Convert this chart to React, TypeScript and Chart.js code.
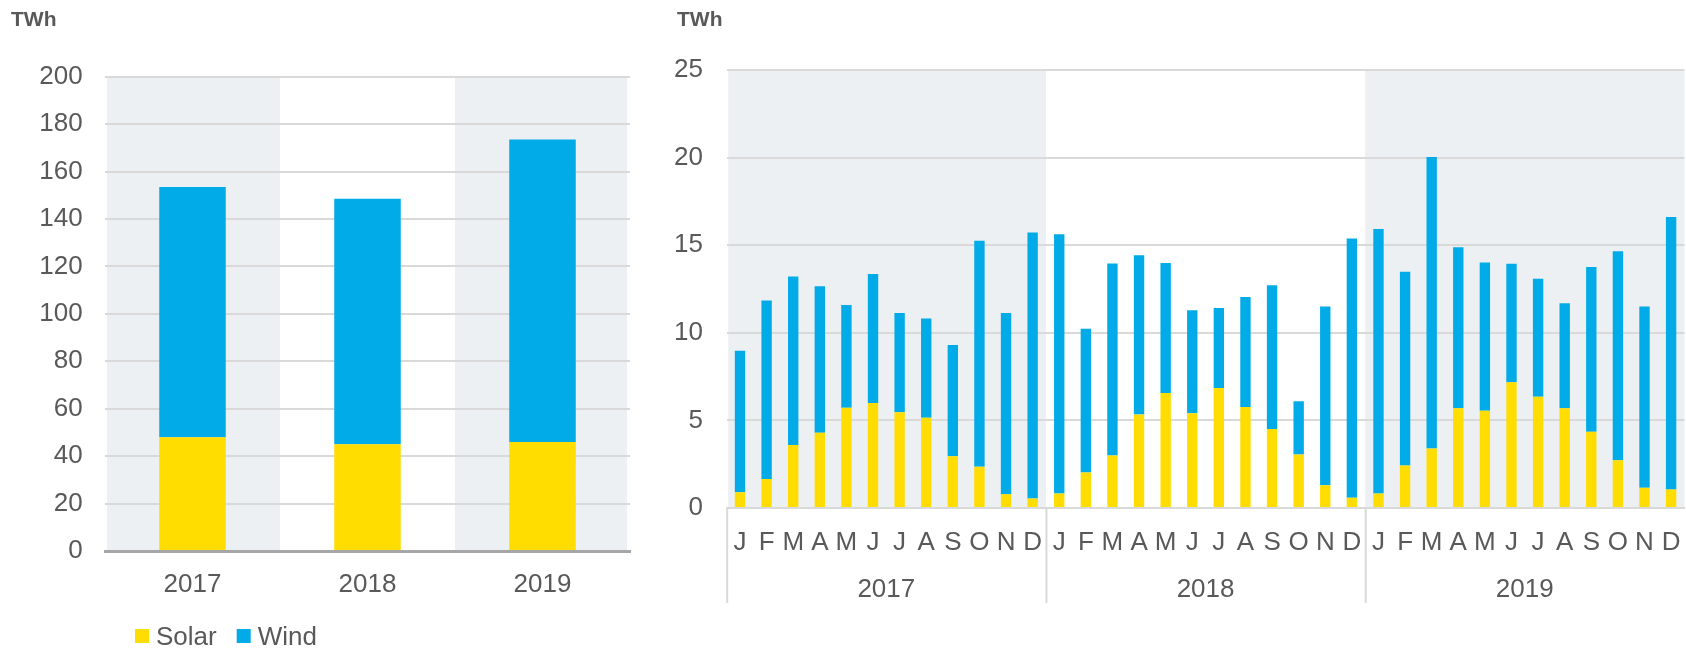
import React, { useEffect, useRef } from "react";
import { Chart, registerables } from "chart.js";

Chart.register(...registerables);

// ---------- Data ----------
const annualCategories = ["2017", "2018", "2019"];
const annualSolar = [48, 45, 46];
const annualWind = [105.5, 103.5, 127.5];

const monthLetters = ["J", "F", "M", "A", "M", "J", "J", "A", "S", "O", "N", "D"];
const monthYears = ["2017", "2018", "2019"];

const solar2017 = [0.9, 1.65, 3.59, 4.3, 5.72, 6.0, 5.46, 5.15, 2.95, 2.36, 0.78, 0.54];
const wind2017 = [8.08, 10.19, 9.62, 8.36, 5.86, 7.35, 5.67, 5.67, 6.36, 12.9, 10.35, 15.19];
const solar2018 = [0.83, 2.03, 3.0, 5.34, 6.57, 5.41, 6.85, 5.76, 4.51, 3.05, 1.3, 0.59];
const wind2018 = [14.79, 8.2, 10.96, 9.09, 7.42, 5.88, 4.56, 6.29, 8.2, 3.05, 10.2, 14.79];
const solar2019 = [0.83, 2.43, 3.4, 5.69, 5.55, 7.18, 6.35, 5.69, 4.35, 2.72, 1.16, 1.06];
const wind2019 = [15.09, 11.06, 16.63, 9.19, 8.46, 6.76, 6.74, 6.0, 9.4, 11.93, 10.34, 15.55];

const seriesNames = ["Solar", "Wind"];
const unitLabel = "TWh";

// ---------- Style ----------
const FONT = "'Liberation Sans', Arial, sans-serif";
const TEXT = "#595959";
const GRID = "#d9d9d9";
const BAND = "#ecf0f3";
const SOLAR = "#ffdd00";
const WIND = "#00abe7";
const FS = 26;

const decorPlugin = {
  id: "decor",
  beforeDraw(chart: any, _args: any, opts: any) {
    const { ctx, chartArea } = chart;
    const x = chart.scales.x;
    const n = x.getLabels().length;
    const slot = (chartArea.right - chartArea.left) / n;
    ctx.save();
    ctx.fillStyle = BAND;
    for (const [a, b] of opts.bands || []) {
      let x0 = x.getPixelForValue(a) - slot / 2;
      let x1 = x.getPixelForValue(b) + slot / 2;
      x0 = Math.max(x0, chartArea.left + opts.inset[0]);
      x1 = Math.min(x1, chartArea.right - opts.inset[1]);
      ctx.fillRect(x0, chartArea.top + 1, x1 - x0, chartArea.bottom - chartArea.top - 1);
    }
    ctx.restore();
  },
  afterDraw(chart: any, _args: any, opts: any) {
    const { ctx, chartArea } = chart;
    ctx.save();
    ctx.fillStyle = TEXT;
    ctx.textBaseline = "alphabetic";
    ctx.textAlign = "left";
    ctx.font = `bold 21px ${FONT}`;
    ctx.fillText(opts.title, opts.titleX, 25.5);

    if (opts.dividers) {
      const x = chart.scales.x;
      const n = x.getLabels().length;
      const slot = (chartArea.right - chartArea.left) / n;
      const bottom = chart.scales.x2.bottom;
      ctx.strokeStyle = GRID;
      ctx.lineWidth = 2;
      for (const i of opts.dividers) {
        const px = x.getPixelForValue(i) - slot / 2 + 0.5;
        ctx.beginPath();
        ctx.moveTo(px, chartArea.bottom);
        ctx.lineTo(px, bottom);
        ctx.stroke();
      }
    }

    if (opts.legend) {
      ctx.font = `${FS}px ${FONT}`;
      let lx = opts.legend.x;
      const y = opts.legend.y;
      chart.data.datasets.forEach((ds: any) => {
        ctx.fillStyle = ds.backgroundColor;
        ctx.fillRect(lx, y, 14, 14);
        lx += 21;
        ctx.fillStyle = TEXT;
        ctx.fillText(ds.label, lx, y + 15.5);
        lx += ctx.measureText(ds.label).width + 20;
      });
    }
    ctx.restore();
  },
};

export default function App() {
  const leftRef = useRef<HTMLCanvasElement>(null);
  const rightRef = useRef<HTMLCanvasElement>(null);

  useEffect(() => {
    Chart.defaults.font.family = FONT;
    Chart.defaults.color = TEXT;

    const left = new Chart(leftRef.current!, {
      type: "bar",
      data: {
        labels: annualCategories,
        datasets: [
          { label: seriesNames[0], data: annualSolar, backgroundColor: SOLAR, borderWidth: 0 },
          { label: seriesNames[1], data: annualWind, backgroundColor: WIND, borderWidth: 0 },
        ],
      },
      options: {
        animation: false,
        responsive: false,
        events: [],
        layout: { padding: { top: 76.7, right: 30, bottom: 37, left: 0 } },
        datasets: { bar: { categoryPercentage: 1, barPercentage: 0.38 } },
        plugins: {
          legend: { display: false },
          tooltip: { enabled: false },
          decor: { bands: [[0, 0], [2, 2]], inset: [2, 3], title: unitLabel, titleX: 11, legend: { x: 135, y: 629 } },
        } as any,
        scales: {
          x: {
            stacked: true,
            grid: { display: false },
            border: { display: true, color: "#a6a6a6", width: 3 },
            ticks: { font: { size: FS }, color: TEXT, padding: 10.5, maxRotation: 0 },
            afterFit: (s: any) => { s.height = 60; },
          },
          y: {
            stacked: true,
            min: 0,
            max: 200,
            ticks: { stepSize: 20, font: { size: FS }, color: TEXT, padding: 22.3 },
            grid: { color: GRID, lineWidth: 2, drawTicks: false },
            border: { display: false },
            afterFit: (s: any) => { s.width = 105; },
          },
        },
      },
      plugins: [decorPlugin],
    } as any);

    const monthLabels: string[] = [];
    monthYears.forEach(() => monthLetters.forEach((m) => monthLabels.push(m)));

    const right = new Chart(rightRef.current!, {
      type: "bar",
      data: {
        labels: monthLabels,
        datasets: [
          { label: seriesNames[0], data: [...solar2017, ...solar2018, ...solar2019], backgroundColor: SOLAR, borderWidth: 0 },
          { label: seriesNames[1], data: [...wind2017, ...wind2018, ...wind2019], backgroundColor: WIND, borderWidth: 0 },
        ],
      },
      options: {
        animation: false,
        responsive: false,
        events: [],
        layout: { padding: { top: 70, right: 0, bottom: 45, left: 0 } },
        datasets: { bar: { categoryPercentage: 1, barPercentage: 0.39 } },
        plugins: {
          legend: { display: false },
          tooltip: { enabled: false },
          decor: { bands: [[0, 11], [24, 35]], inset: [1.5, 0], title: unitLabel, titleX: 17, dividers: [0, 12, 24] },
        } as any,
        scales: {
          x: {
            stacked: true,
            weight: 1,
            grid: { display: false },
            border: { display: true, color: GRID, width: 2 },
            ticks: { font: { size: FS }, color: TEXT, padding: 11.5, maxRotation: 0, minRotation: 0, autoSkip: false },
            afterFit: (s: any) => { s.height = 50; },
          },
          x2: {
            type: "category",
            position: "bottom",
            weight: 2,
            labels: monthYears,
            offset: true,
            grid: { display: false },
            border: { display: false },
            ticks: { font: { size: FS }, color: TEXT, padding: 8.5, maxRotation: 0 },
            afterFit: (s: any) => { s.height = 45; },
          },
          y: {
            stacked: true,
            min: 0,
            max: 25,
            ticks: { stepSize: 5, font: { size: FS }, color: TEXT, padding: 23.7 },
            grid: { color: GRID, lineWidth: 2, drawTicks: false },
            border: { display: false },
            afterFit: (s: any) => { s.width = 66.7; },
          },
        },
      },
      plugins: [decorPlugin],
    } as any);

    return () => {
      left.destroy();
      right.destroy();
    };
  }, []);

  return (
    <div
      style={{
        position: "fixed",
        left: 0,
        top: 0,
        width: 1686,
        height: 648,
        overflow: "hidden",
        background: "#ffffff",
      }}
    >
      <canvas
        ref={leftRef}
        width={660}
        height={648}
        style={{ position: "absolute", left: 0, top: 0, width: 660, height: 648 }}
      />
      <canvas
        ref={rightRef}
        width={1032}
        height={648}
        style={{ position: "absolute", left: 660, top: 0, width: 1032, height: 648 }}
      />
    </div>
  );
}
